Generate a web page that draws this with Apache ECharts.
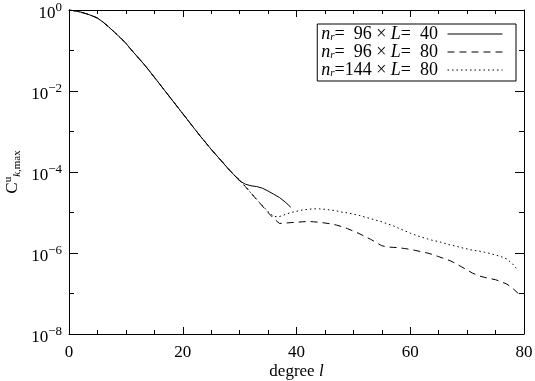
<!DOCTYPE html>
<html>
<head>
<meta charset="utf-8">
<script src="https://cdn.jsdelivr.net/npm/echarts@6/dist/echarts.min.js"></script>
<style>
  html, body { margin: 0; padding: 0; background: #fff; }
  #chart { width: 535px; height: 381px; }
</style>
</head>
<body>
<div id="chart"></div>
<script>
// degree l (0..79)
var degrees = [];
for (var i = 0; i < 80; i++) degrees.push(i);

// values, l = 0..29 (all three runs agree)
var common = [1, 0.955, 0.891, 0.813, 0.724, 0.631, 0.501, 0.380, 0.282, 0.209,
  0.151, 0.102, 0.0708, 0.049, 0.0331, 0.0219, 0.0145, 0.00955, 0.00631, 0.00417,
  0.00275, 0.00182, 0.0012, 7.94e-4, 5.37e-4, 3.63e-4, 2.51e-4, 1.74e-4, 1.20e-4, 8.51e-5];

// n_r=96, L=40 : l = 30..39
var tail40 = [6.03e-5, 5.01e-5, 4.57e-5, 4.37e-5, 3.98e-5, 3.39e-5, 2.82e-5, 2.34e-5, 1.82e-5, 1.35e-5];

// n_r=96, L=80 : l = 30..79
var tail96 = [6.31e-5, 4.37e-5, 3.02e-5, 2.09e-5, 1.45e-5, 1.0e-5, 7.08e-6, 5.37e-6, 5.50e-6, 5.62e-6,
  5.75e-6, 5.89e-6, 6.03e-6, 5.89e-6, 5.75e-6, 5.50e-6, 5.25e-6, 4.90e-6, 4.47e-6, 3.98e-6,
  3.47e-6, 3.02e-6, 2.57e-6, 2.19e-6, 1.82e-6, 1.51e-6, 1.41e-6, 1.38e-6, 1.35e-6, 1.29e-6,
  1.23e-6, 1.15e-6, 1.07e-6, 1.0e-6, 9.12e-7, 8.13e-7, 7.24e-7, 6.46e-7, 5.50e-7, 4.57e-7,
  3.80e-7, 3.16e-7, 2.75e-7, 2.51e-7, 2.34e-7, 2.19e-7, 1.95e-7, 1.70e-7, 1.35e-7, 1.0e-7];

// n_r=144, L=80 : l = 30..79
var tail144 = [6.31e-5, 4.37e-5, 3.02e-5, 2.09e-5, 1.48e-5, 1.05e-5, 7.94e-6, 7.94e-6, 8.91e-6, 1.0e-5,
  1.07e-5, 1.15e-5, 1.20e-5, 1.23e-5, 1.23e-5, 1.20e-5, 1.15e-5, 1.10e-5, 1.02e-5, 9.77e-6,
  9.12e-6, 8.51e-6, 7.76e-6, 7.08e-6, 6.46e-6, 5.89e-6, 5.25e-6, 4.68e-6, 4.07e-6, 3.55e-6,
  3.09e-6, 2.75e-6, 2.45e-6, 2.24e-6, 2.04e-6, 1.91e-6, 1.74e-6, 1.58e-6, 1.48e-6, 1.35e-6,
  1.26e-6, 1.17e-6, 1.12e-6, 1.05e-6, 9.77e-7, 8.91e-7, 8.13e-7, 7.08e-7, 5.37e-7, 3.63e-7];

var xTicks = [0, 20, 40, 60, 80];

function pairs(vals) {
  return vals.map(function (v, k) { return [degrees[k], v]; });
}

var FONT = '"Liberation Serif", "DejaVu Serif", serif';
var chart = echarts.init(document.getElementById('chart'));

var legRich = {
  it: { fontFamily: FONT, fontStyle: 'italic', fontSize: 18, color: '#000', lineHeight: 17 },
  sub: { fontFamily: FONT, fontStyle: 'italic', fontSize: 11, color: '#000', padding: [6, 0, 0, 0], lineHeight: 11 },
  t: { fontFamily: FONT, fontSize: 18, color: '#000', lineHeight: 17 }
};
var legendText = {
  'a': '{it|n}{sub|r}{t|=  96 × }{it|L}{t|=  40 }',
  'b': '{it|n}{sub|r}{t|=  96 × }{it|L}{t|=  80 }',
  'c': '{it|n}{sub|r}{t|=144 × }{it|L}{t|=  80 }'
};

function yAx(pos, interval, len, showLine, showLabel) {
  return {
    type: 'log', logBase: 10, min: 1e-8, max: 1, interval: interval, position: pos,
    axisLine: { show: showLine, lineStyle: { color: '#000', width: 1 } },
    axisTick: { show: true, inside: true, length: len, lineStyle: { color: '#000', width: 1 } },
    splitLine: { show: false },
    axisLabel: {
      show: showLabel, margin: 7,
      formatter: function (v) {
        var e = Math.round(Math.log(v) / Math.LN10);
        return '{b|10}{s|' + (e === 0 ? '0' : '\u2212' + (-e)) + '}';
      },
      rich: {
        b: { fontFamily: FONT, fontSize: 17, color: '#000', padding: [8, 0, 0, 0] },
        s: { fontFamily: FONT, fontSize: 13, color: '#000', padding: [0, 0, 4, 0] }
      }
    }
  };
}

var option = {
  animation: false,
  backgroundColor: '#fff',
  grid: { left: 69, right: 11, top: 10, bottom: 47, containLabel: false, outerBoundsMode: 'none' },
  legend: {
    orient: 'vertical', right: 19, top: 24, align: 'right',
    itemWidth: 55, itemHeight: 10, itemGap: 0,
    padding: [1, 13, 2, 4],
    borderColor: '#000', borderWidth: 1,
    itemStyle: { opacity: 0 },
    lineStyle: { width: 1 },
    data: ['a', 'b', 'c'],
    formatter: function (name) { return legendText[name]; },
    textStyle: { rich: legRich }
  },
  xAxis: [{
    type: 'value', min: 0, max: 80, interval: 20, position: 'bottom',
    name: 'degree {it|l}', nameLocation: 'middle', nameGap: 29, nameMoveOverlap: false,
    nameTextStyle: {
      fontFamily: FONT, fontSize: 17, color: '#000',
      rich: { it: { fontFamily: FONT, fontSize: 17, fontStyle: 'italic', color: '#000' } }
    },
    axisLine: { lineStyle: { color: '#000', width: 1 } },
    axisTick: { inside: true, length: 7, lineStyle: { color: '#000' } },
    minorTick: { show: true, splitNumber: 4, length: 4, lineStyle: { color: '#000' } },
    splitLine: { show: false },
    axisLabel: {
      fontFamily: FONT, fontSize: 17, color: '#000', margin: 10,
      formatter: function (v) { return xTicks.indexOf(v) >= 0 ? String(v) : ''; }
    }
  }, {
    type: 'value', min: 0, max: 80, interval: 20, position: 'top',
    axisLine: { lineStyle: { color: '#000', width: 1 } },
    axisTick: { inside: true, length: 7, lineStyle: { color: '#000' } },
    minorTick: { show: true, splitNumber: 4, length: 4, lineStyle: { color: '#000' } },
    splitLine: { show: false },
    axisLabel: { show: false }
  }],
  yAxis: [
    Object.assign(yAx('left', 2, 9, true, true), {
      name: 'C{sup|u}{sub|k}{subr|,max}', nameLocation: 'middle', nameGap: 46, nameRotate: 90,
      nameMoveOverlap: false,
      nameTextStyle: {
        fontFamily: FONT, fontSize: 17, color: '#000',
        rich: {
          sup: { fontFamily: FONT, fontSize: 11, color: '#000', padding: [0, 0, 9, 0] },
          sub: { fontFamily: FONT, fontSize: 11, fontStyle: 'italic', color: '#000', padding: [8, 0, 0, 0] },
          subr: { fontFamily: FONT, fontSize: 11, color: '#000', padding: [8, 0, 0, 0] }
        }
      }
    }),
    yAx('left', 1, 5, false, false),
    yAx('right', 2, 9, true, false),
    yAx('right', 1, 5, false, false)
  ],
  series: [{
    name: 'a', type: 'line', showSymbol: false, symbol: 'none',
    data: pairs(common.concat(tail40)),
    lineStyle: { color: '#000', width: 1, type: 'solid' }, itemStyle: { color: '#000' }
  }, {
    name: 'b', type: 'line', showSymbol: false, symbol: 'none',
    data: pairs(common.concat(tail96)),
    lineStyle: { color: '#000', width: 1, type: [7, 5] }, itemStyle: { color: '#000' }
  }, {
    name: 'c', type: 'line', showSymbol: false, symbol: 'none',
    data: pairs(common.concat(tail144)),
    lineStyle: { color: '#000', width: 1, type: [1.5, 3] }, itemStyle: { color: '#000' }
  }]
};

chart.setOption(option);
</script>
</body>
</html>
